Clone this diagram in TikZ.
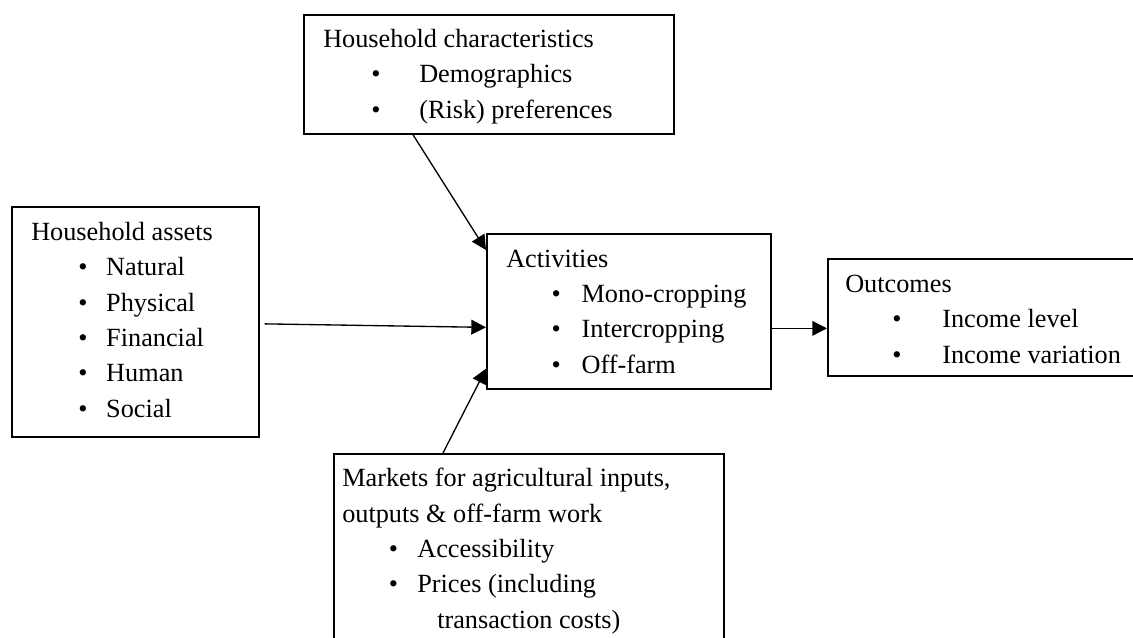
\documentclass[tikz,border=0pt]{standalone}
\usepackage{fontspec}
\setmainfont{Liberation Serif}
\usetikzlibrary{arrows.meta,calc}

\tikzset{
  box/.style={draw, line width=1.3pt, anchor=north west, inner sep=0pt},
  txt/.style={anchor=base west, inner sep=0pt, align=left, font=\fontsize{19.7}{26.5}\selectfont},
  link/.style={line width=1pt, -{Triangle[length=11pt,width=11pt]}}
}
\newcommand{\blt}[2]{\hspace*{#1pt}\makebox[#2pt][l]{\textbullet}}

\begin{document}
\begin{tikzpicture}[x=0.75pt,y=0.75pt,yscale=-1,xscale=1]
\clip (0,0) rectangle (1133,637);

% Boxes
\node (chars) [box, minimum width=277.5pt, minimum height=89.25pt] at (303,14) {};
\node (assets) [box, minimum width=185.25pt, minimum height=172.5pt] at (11,206) {};
\node (act) [box, minimum width=213pt, minimum height=116.25pt] at (486,233) {};
\node (outc) [box, minimum width=240pt, minimum height=87.75pt] at (827,258) {};
\node (markets) [box, minimum width=292.5pt, minimum height=150pt] at (333,453) {};

% Text Node (placed at the baseline of its last line)
\node (charsT) [txt] at (323,118) {Household characteristics\\
  \blt{36}{36}Demographics\\
  \blt{36}{36}(Risk) preferences};
% Text Node
\node (assetsT) [txt] at (31,417) {Household assets\\
  \blt{35.25}{21}Natural\\
  \blt{35.25}{21}Physical\\
  \blt{35.25}{21}Financial\\
  \blt{35.25}{21}Human\\
  \blt{35.25}{21}Social};
% Text Node
\node (actT) [txt] at (506,373) {Activities\\
  \blt{34}{22.5}Mono-cropping\\
  \blt{34}{22.5}Intercropping\\
  \blt{34}{22.5}Off-farm};
% Text Node
\node (outcT) [txt] at (845,363) {Outcomes\\
  \blt{35.25}{37.5}Income level\\
  \blt{35.25}{37.5}Income variation};
% Text Node
\node (marketsT) [txt] at (342,628) {Markets for agricultural inputs,\\
  outputs \& off-farm work\\
  \blt{34.9}{21.4}Accessibility\\
  \blt{34.9}{21.4}Prices (including\\
  \hspace*{71.25pt}transaction costs)};

% Arrows
\draw [link] ($(chars.south west)+(110,0)$) -- ($(act.north west)+(0,17)$);
\draw [link] ($(assets.east)+(5,2)$) -- ($(act.west)+(0,16)$);
\draw [link] ($(markets.north west)+(110,0)$) -- ($(act.south west)+(0,-21)$);
\draw [link] ($(act.east)+(0,17)$) -- ($(outc.west)+(0,11)$);

\end{tikzpicture}
\end{document}
